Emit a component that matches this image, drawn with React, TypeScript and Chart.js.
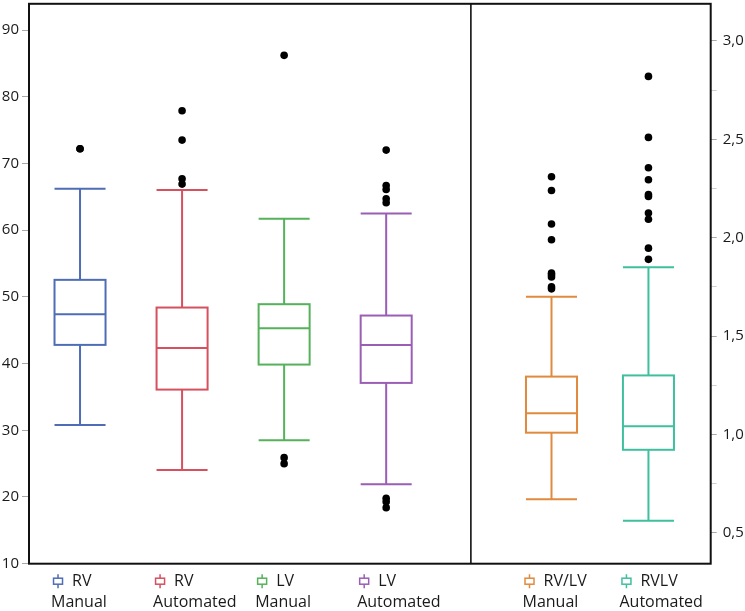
import React, { useEffect, useRef } from "react";
import { Chart, registerables } from "chart.js";

Chart.register(...registerables);

// ---- data ----
const categories = ["RV Manual", "RV Automated", "LV Manual", "LV Automated", "RV/LV Manual", "RVLV Automated"];
const legendTop = ["RV", "RV", "LV", "LV", "RV/LV", "RVLV"];
const legendBottom = ["Manual", "Automated", "Manual", "Automated", "Manual", "Automated"];
const axisOf = ["y", "y", "y", "y", "y1", "y1"];

const whiskerLow = [30.8, 24.05, 28.5, 21.9, 0.671, 0.561];
const q1 = [42.8, 36.1, 39.85, 37.1, 1.009, 0.922];
const median = [47.4, 42.35, 45.3, 42.8, 1.108, 1.042];
const q3 = [52.55, 48.4, 48.9, 47.2, 1.294, 1.3];
const whiskerHigh = [66.2, 66.0, 61.7, 62.5, 1.7, 1.85];

const outliersRVManual = [72.2, 72.2];
const outliersRVAutomated = [77.9, 73.5, 67.7, 66.9];
const outliersLVManual = [86.2, 25.9, 25.0];
const outliersLVAutomated = [72.0, 66.7, 66.1, 64.7, 64.1, 19.8, 19.3, 18.4];
const outliersRatioManual = [2.31, 2.24, 2.07, 1.99, 1.82, 1.81, 1.8, 1.75, 1.74];
const outliersRatioAutomated = [2.82, 2.51, 2.356, 2.295, 2.22, 2.21, 2.126, 2.094, 1.947, 1.89];
const outliers = [
  outliersRVManual,
  outliersRVAutomated,
  outliersLVManual,
  outliersLVAutomated,
  outliersRatioManual,
  outliersRatioAutomated,
];

// ---- layout / style ----
const colors = ["#4f6db6", "#d6505e", "#55b25a", "#9a5eb5", "#e08a3e", "#3fbf9e"];
const xPositions = [0, 1, 2, 3, 4.62, 5.57];
const panelDivider = 3.83;
const halfBox = 0.25;
const FONT = "'Open Sans', 'Noto Sans', sans-serif";

const boxPlugin = {
  id: "boxplots",
  beforeDatasetsDraw(chart: any) {
    const { ctx, chartArea, scales } = chart;
    const xs = scales.x;
    ctx.save();
    for (let i = 0; i < categories.length; i++) {
      const ys = scales[axisOf[i]];
      const cx = xs.getPixelForValue(xPositions[i]);
      const l = xs.getPixelForValue(xPositions[i] - halfBox);
      const r = xs.getPixelForValue(xPositions[i] + halfBox);
      const yLo = ys.getPixelForValue(whiskerLow[i]);
      const yQ1 = ys.getPixelForValue(q1[i]);
      const yMed = ys.getPixelForValue(median[i]);
      const yQ3 = ys.getPixelForValue(q3[i]);
      const yHi = ys.getPixelForValue(whiskerHigh[i]);
      ctx.strokeStyle = colors[i];
      ctx.lineWidth = 2;
      ctx.beginPath();
      ctx.moveTo(cx, yHi);
      ctx.lineTo(cx, yQ3);
      ctx.moveTo(cx, yQ1);
      ctx.lineTo(cx, yLo);
      ctx.moveTo(l, yHi);
      ctx.lineTo(r, yHi);
      ctx.moveTo(l, yLo);
      ctx.lineTo(r, yLo);
      ctx.moveTo(l, yMed);
      ctx.lineTo(r, yMed);
      ctx.stroke();
      ctx.strokeRect(l, yQ3, r - l, yQ1 - yQ3);
    }
    ctx.strokeStyle = "#111";
    ctx.lineWidth = 2;
    ctx.strokeRect(chartArea.left, chartArea.top, chartArea.right - chartArea.left, chartArea.bottom - chartArea.top);
    const dx = xs.getPixelForValue(panelDivider);
    ctx.lineWidth = 1.6;
    ctx.beginPath();
    ctx.moveTo(dx, chartArea.top);
    ctx.lineTo(dx, chartArea.bottom);
    ctx.stroke();
    ctx.restore();
  },
  afterDraw(chart: any) {
    const { ctx, chartArea, scales } = chart;
    const xs = scales.x;
    ctx.save();
    ctx.font = `16px ${FONT}`;
    ctx.textBaseline = "middle";
    ctx.textAlign = "left";
    const y1 = chartArea.bottom + 17.5;
    const y2 = chartArea.bottom + 38.5;
    for (let i = 0; i < categories.length; i++) {
      const left = xs.getPixelForValue(xPositions[i]) - 29;
      ctx.strokeStyle = colors[i];
      ctx.lineWidth = 1.5;
      ctx.strokeRect(left + 2.5, y1 - 3, 9, 6);
      ctx.beginPath();
      ctx.moveTo(left + 7, y1 - 7);
      ctx.lineTo(left + 7, y1 - 3);
      ctx.moveTo(left + 7, y1 + 3);
      ctx.lineTo(left + 7, y1 + 7);
      ctx.stroke();
      ctx.fillStyle = "#1a1a1a";
      ctx.fillText(legendTop[i], left + 21, y1);
      ctx.fillText(legendBottom[i], left, y2);
    }
    ctx.restore();
  },
};

export default function App() {
  const ref = useRef<HTMLCanvasElement | null>(null);
  useEffect(() => {
    document.body.style.margin = "0";
    if (!ref.current) return;
    const chart = new Chart(ref.current, {
      type: "scatter",
      data: {
        datasets: outliers.map((vals, i) => ({
          label: categories[i],
          data: vals.map((v) => ({ x: xPositions[i], y: v })),
          yAxisID: axisOf[i],
          pointRadius: 3.8,
          pointHoverRadius: 3.8,
          pointBackgroundColor: "#000",
          pointBorderWidth: 0,
          showLine: false,
        })),
      },
      options: {
        animation: false,
        responsive: true,
        maintainAspectRatio: false,
        layout: { padding: { top: 2, bottom: 47.3, left: 0, right: 0 } },
        plugins: { legend: { display: false }, tooltip: { enabled: false } },
        scales: {
          x: { type: "linear", min: -0.5, max: 6.18, display: false },
          y: {
            type: "linear",
            position: "left",
            min: 10,
            max: 93.93,
            afterFit: (s: any) => {
              s.width = 29;
              s.paddingTop = 0;
              s.paddingBottom = 0;
            },
            border: { display: false },
            grid: { drawOnChartArea: false, drawTicks: true, tickLength: 7, color: "#a8a8a8" },
            ticks: {
              stepSize: 10,
              includeBounds: false,
              padding: 3,
              color: "#1a1a1a",
              font: { family: FONT, size: 15 },
            },
          },
          y1: {
            type: "linear",
            position: "right",
            min: 0.343,
            max: 3.189,
            afterFit: (s: any) => {
              s.width = 34.3;
              s.paddingTop = 0;
              s.paddingBottom = 0;
            },
            border: { display: false },
            grid: {
              drawOnChartArea: false,
              drawTicks: true,
              tickLength: 6,
              color: (c: any) => {
                const v = c.tick ? c.tick.value : 0;
                return Math.abs(v * 2 - Math.round(v * 2)) < 1e-6 ? "#a8a8a8" : "#cfcfcf";
              },
            },
            ticks: {
              stepSize: 0.25,
              includeBounds: false,
              padding: 6,
              color: "#1a1a1a",
              font: { family: FONT, size: 15 },
              callback: (v: any) =>
                Math.abs(v * 2 - Math.round(v * 2)) < 1e-6 ? Number(v).toFixed(1).replace(".", ",") : "",
            },
          },
        },
      },
      plugins: [boxPlugin],
    });
    return () => chart.destroy();
  }, []);
  return (
    <div style={{ position: "relative", width: 745, height: 611 }}>
      <canvas ref={ref} />
    </div>
  );
}
